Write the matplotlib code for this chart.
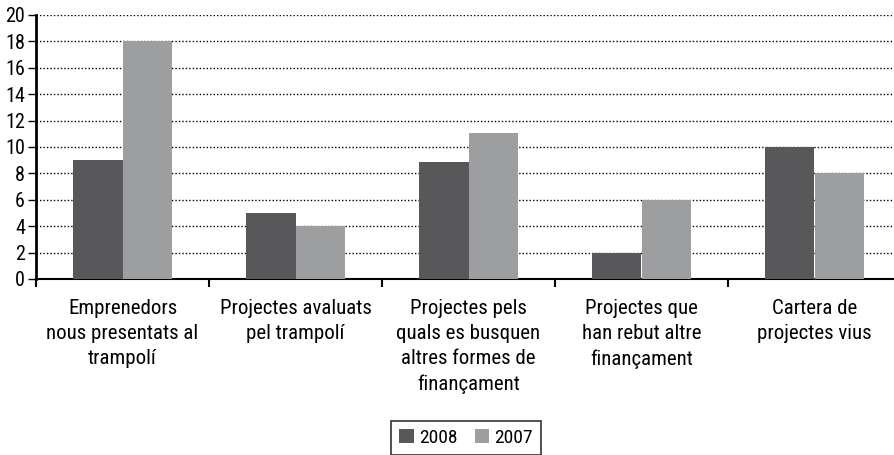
import numpy as np
import matplotlib.pyplot as plt
from matplotlib.patches import Patch

plt.rcParams['font.family'] = ['Roboto Condensed', 'Archivo Narrow', 'Asap Condensed', 'DejaVu Sans']

categories = ['Emprenedors\nnous presentats al\ntrampolí',
              'Projectes avaluats\npel trampolí',
              'Projectes pels\nquals es busquen\naltres formes de\nfinançament',
              'Projectes que\nhan rebut altre\nfinançament',
              'Cartera de\nprojectes vius']
vals_2008 = [9, 5, 8.85, 2, 10]
vals_2007 = [18, 4, 11.05, 6, 8]
yticks = [0, 2, 4, 6, 8, 10, 12, 14, 16, 18, 20]

W, H = 895, 455
fig = plt.figure(figsize=(W / 100, H / 100), dpi=100)
ax = fig.add_axes([36 / W, (H - 279) / H, (901 - 36) / W, (279 - 15) / H])

x = np.arange(len(categories))
bw = 0.288
ax.bar(x - bw / 2, vals_2008, bw, color='#58585a', zorder=3, label='2008')
ax.bar(x + bw / 2, vals_2007, bw, color='#9d9ea0', zorder=3, label='2007')

ax.set_xlim(-0.5, 4.5)
ax.set_ylim(0, 20)
ax.set_yticks(yticks)
ax.tick_params(axis='y', labelsize=14.5, length=6, width=1, pad=2)
ax.set_xticks(np.arange(-0.5, 5, 1))
ax.set_xticklabels([])
ax.tick_params(axis='x', length=6, width=1.5)

for i, lab in enumerate(categories):
    ax.text(i, -1.55, lab, ha='center', va='top', fontsize=15, linespacing=1.4)

ax.yaxis.grid(True, linestyle=(0, (1, 1.5)), color='black', linewidth=1, zorder=0)
for s in ['top', 'right']:
    ax.spines[s].set_visible(False)
ax.spines['left'].set_linewidth(2)
ax.spines['bottom'].set_linewidth(1.5)
ax.spines['left'].set_bounds(0, 20)

handles = [Patch(facecolor='#58585a', label='2008'), Patch(facecolor='#9d9ea0', label='2007')]
leg = fig.legend(handles=handles, loc='upper center', bbox_to_anchor=(466 / W, (H - 421) / H),
                 ncol=2, fontsize=14, frameon=True, fancybox=False, edgecolor='black',
                 handlelength=0.75, handleheight=0.75, handletextpad=0.25, columnspacing=0.9,
                 borderpad=0.4, borderaxespad=0)
leg.get_frame().set_linewidth(1.2)

fig.savefig('out.png', dpi=100, facecolor='white')
